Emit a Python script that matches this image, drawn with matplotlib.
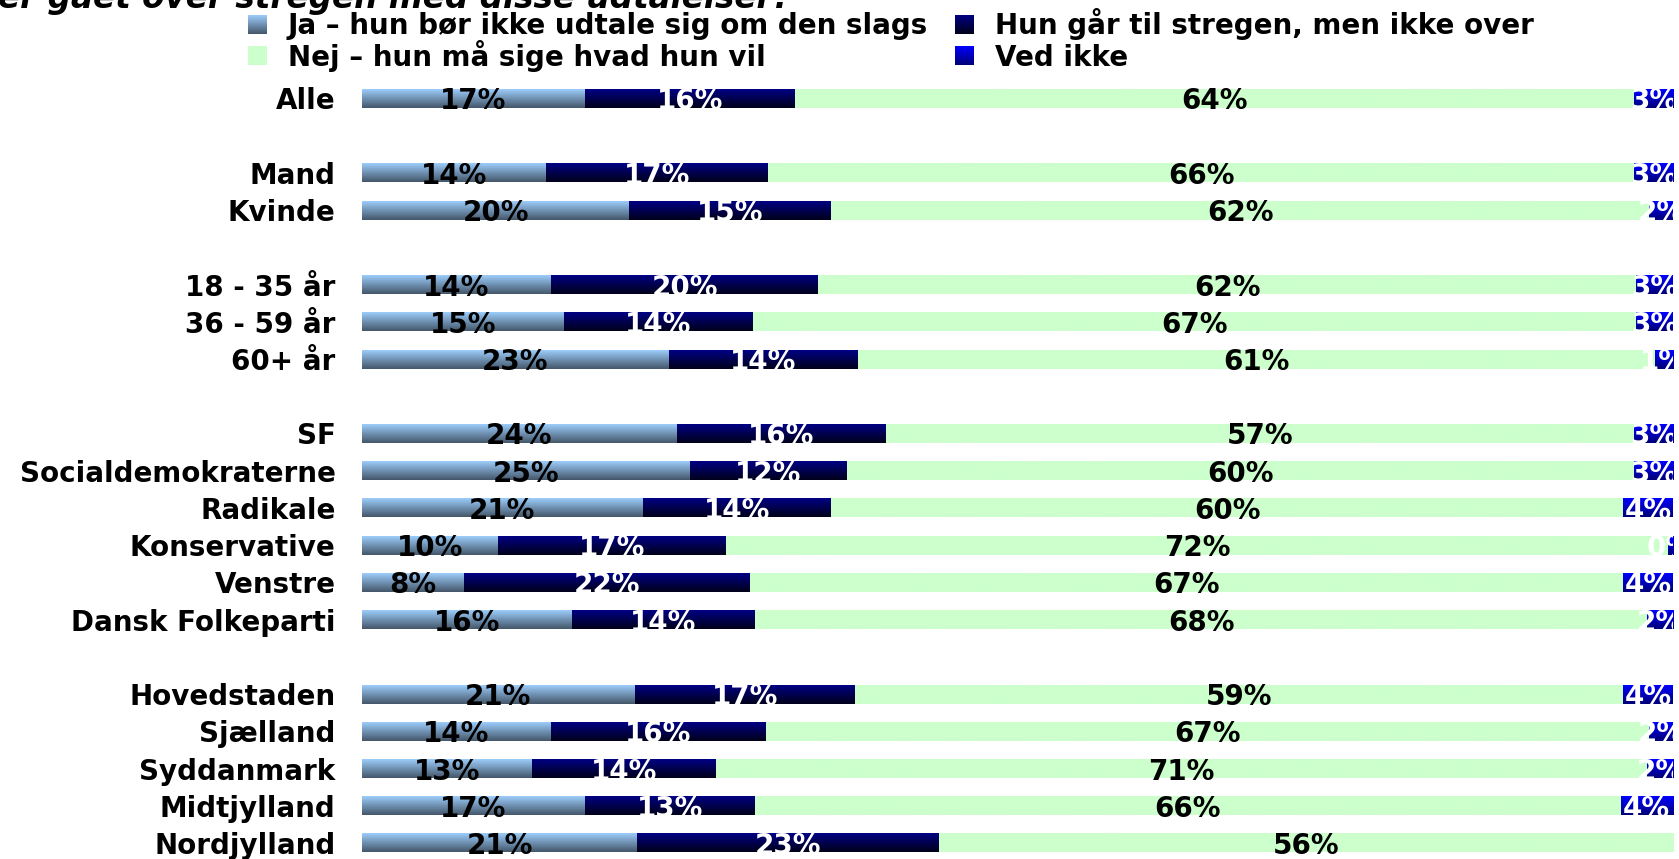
import numpy as np
import matplotlib.pyplot as plt
from matplotlib.colors import LinearSegmentedColormap

plt.rcParams['font.family'] = ['DejaVu Sans']

title = 'Mener du, at hun er gået over stregen med disse udtalelser?'

series = ['Ja – hun bør ikke udtale sig om den slags',
          'Hun går til stregen, men ikke over',
          'Nej – hun må sige hvad hun vil',
          'Ved ikke']

groups = [['Alle'],
          ['Mand', 'Kvinde'],
          ['18 - 35 år', '36 - 59 år', '60+ år'],
          ['SF', 'Socialdemokraterne', 'Radikale', 'Konservative', 'Venstre', 'Dansk Folkeparti'],
          ['Hovedstaden', 'Sjælland', 'Syddanmark', 'Midtjylland', 'Nordjylland']]

ja = [17, 14, 20.4, 14.4, 15.4, 23.4, 24, 25, 21.4, 10.4, 7.8, 16, 20.8, 14.4, 13, 17, 21]
hun_gaar = [16, 17, 15.4, 20.4, 14.4, 14.4, 16, 12, 14.4, 17.4, 21.8, 14, 16.8, 16.4, 14, 13, 23]
nej = [64, 66, 62.4, 62.4, 67.4, 60.8, 57, 60, 60.4, 71.8, 66.6, 68, 58.6, 67.4, 71, 66, 56]
ved_ikke = [3, 3, 1.8, 2.8, 2.8, 1.4, 3, 3, 3.8, 0.4, 3.8, 2, 3.8, 1.8, 2, 4, 0]

# colour gradients (top -> bottom) like the original bars
grad_colors = [('#9ccdfa', '#44566a'),
               ('#000084', '#00001a'),
               ('#ccffcc', '#ccffcc'),
               ('#0000ff', '#000078')]
label_colors = ['black', 'white', 'black', 'white']

# row positions, one blank row between groups
categories = []
ypos = []
row = 0
for g in groups:
    for name in g:
        categories.append(name)
        ypos.append(row)
        row += 1
    row += 1
ypos = np.array(ypos)

W, H = 1679, 859
fig = plt.figure(figsize=(W / 100, H / 100), dpi=100)
ax = fig.add_axes([362 / W, (H - 861.6) / H, 1311 / W, 781.8 / H])

gradient = np.linspace(0, 1, 64).reshape(-1, 1)
bar_h = 0.51
left = np.zeros(len(categories))
for vals, (c_top, c_bot), lcol in zip([ja, hun_gaar, nej, ved_ikke], grad_colors, label_colors):
    vals = np.array(vals, dtype=float)
    bars = ax.barh(ypos, vals, left=left, height=bar_h, color=c_top, linewidth=0)
    cmap = LinearSegmentedColormap.from_list('g', [c_top, c_bot])
    for b in bars:
        x0, y0 = b.get_x(), b.get_y()
        w, h = b.get_width(), b.get_height()
        if w <= 0:
            continue
        im = ax.imshow(gradient, cmap=cmap, aspect='auto', origin='upper',
                       extent=(x0, x0 + w, y0 + h, y0), zorder=2)
        im.set_clip_path(b)
    for y, l, v in zip(ypos, left, vals):
        if v > 0:
            ax.text(l + v / 2, y, f'{v:.0f}%', ha='center', va='center_baseline',
                    fontsize=20, fontweight='bold', color=lcol, zorder=5, clip_on=True)
    left = left + vals

ax.set_xlim(0, 100)
ax.set_ylim(20.5, -0.5)
ax.set_yticks(ypos, categories, fontsize=20, fontweight='bold')
ax.tick_params(axis='y', length=0, pad=19)
ax.set_xticks([])
for s in ax.spines.values():
    s.set_visible(False)

# legend and title drawn in figure pixel space
lax = fig.add_axes([0, 0, 1, 1])
lax.set_axis_off()
lax.patch.set_alpha(0)
legend_pos = [(248, 34.5), (955, 34.5), (248, 65.5), (955, 65.5)]
for name, (c_top, c_bot), (x, yb) in zip(series, grad_colors, legend_pos):
    cmap = LinearSegmentedColormap.from_list('g', [c_top, c_bot])
    lax.imshow(gradient, cmap=cmap, aspect='auto', origin='upper',
               extent=(x, x + 19, yb, yb - 19))
    lax.text(x + 40, yb, name, ha='left', va='baseline', fontsize=20, fontweight='bold')
lax.text(792, 8, title, ha='right', va='baseline', fontsize=23.5,
         fontweight='bold', fontstyle='italic')
lax.set_xlim(0, W)
lax.set_ylim(H, 0)

fig.savefig('out.png', dpi=100)
